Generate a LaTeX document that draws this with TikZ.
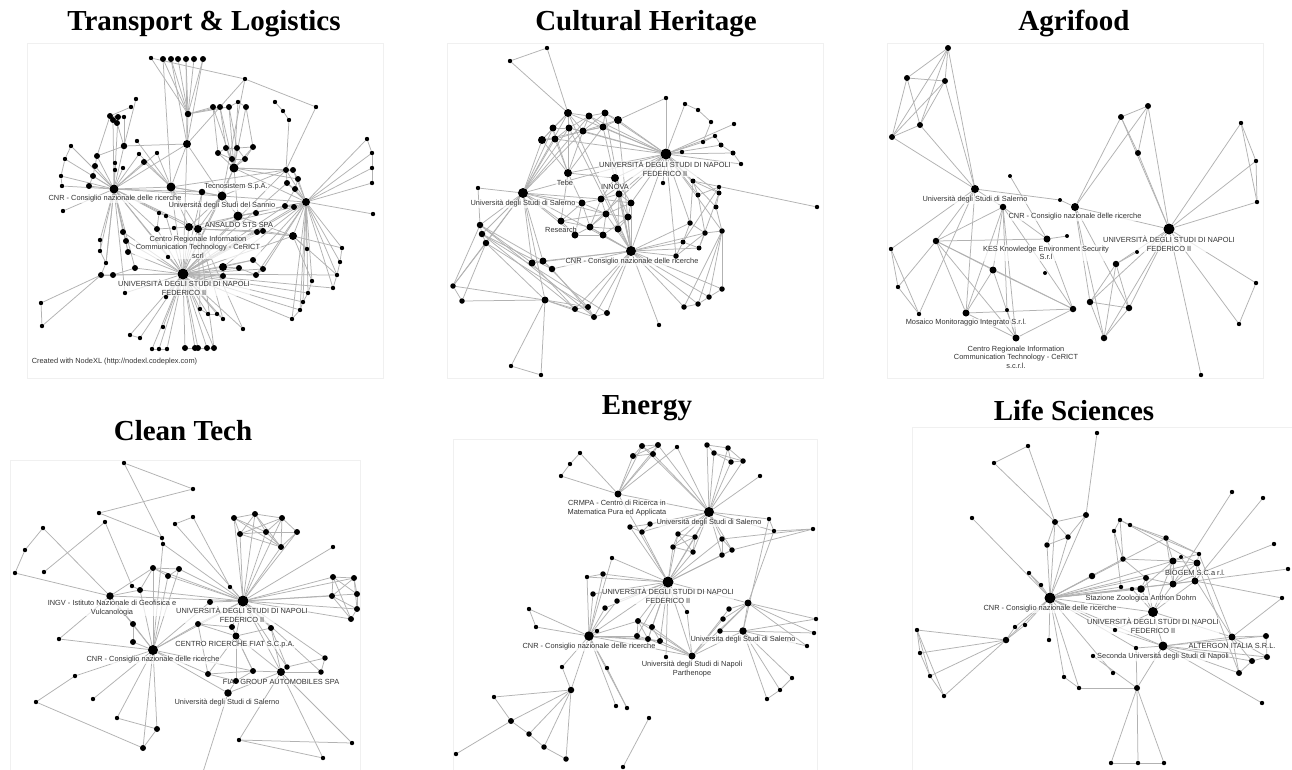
\documentclass[tikz,border=0pt]{standalone}
\usepackage{fontspec}
\setmainfont{Liberation Serif}
\newfontfamily\lblfont{Liberation Sans}
\pgfdeclarelayer{bg}
\pgfdeclarelayer{mid}
\pgfsetlayers{bg,mid,main}
\tikzset{
 dot/.style={circle,fill=black,draw=none,inner sep=0pt,minimum size=#1},
 edge/.style={draw=black!30,line width=0.75pt},
 lbl/.style={font=\lblfont\fontsize{7.4}{8.5}\selectfont,text=black!80,align=center,inner sep=0.6pt,fill=white,fill opacity=0.7,text opacity=1},
 ttl/.style={font=\bfseries\fontsize{29}{32}\selectfont,inner sep=0pt,anchor=base},
 frame/.style={draw=black!6,line width=0.6pt}
}
\begin{document}
\begin{tikzpicture}[x=1pt,y=-1pt]
\useasboundingbox (0,0) rectangle (1292,769);
\begin{pgfonlayer}{bg}
\fill[white] (0,0) rectangle (1292,769);
\draw[frame] (27,43) rectangle (383,378);
\draw[frame] (447,43) rectangle (823,378);
\draw[frame] (887,43) rectangle (1263,378);
\draw[frame] (10,460) rectangle (360,775);
\draw[frame] (453,439) rectangle (817,775);
\draw[frame] (912,427) rectangle (1300,775);
\end{pgfonlayer}

% titles
\node[ttl] (t1) at (204,30) {Transport \& Logistics};
\node[ttl] (t2) at (646,30) {Cultural Heritage};
\node[ttl] (t3) at (1074,30) {Agrifood};
\node[ttl] (t4) at (183,440) {Clean Tech};
\node[ttl] (t5) at (647,414) {Energy};
\node[ttl] (t6) at (1074,420) {Life Sciences};

% ---------------- Panel 1 ----------------
\foreach \n/\x/\y/\s in {1/151/58/4.4pt, 2/163/59/6pt, 3/171/59/6pt, 4/178/59/6pt, 5/186/59/6pt, 6/194/59/6pt, 7/203/59/6pt, 8/245/79/4.4pt, 9/316/107/4.4pt, 10/275/102/4.4pt, 11/283/111/4.4pt, 12/289/120/4.4pt, 13/136/99/4.4pt, 14/131/107/4.4pt, 15/110/116/6pt, 16/113/120/6pt, 17/117/123/6pt, 18/118/117/6pt, 19/124/117/4.4pt, 20/188/114/6.5pt, 21/213/107/6pt, 22/220/107/6pt, 23/229/107/6pt, 24/238/102/4.4pt, 25/246/107/6pt, 26/187/144/8pt, 27/124/146/6.5pt, 28/137/141/4.4pt, 29/71/146/4.4pt, 30/65/159/4.4pt, 31/61/176/4.4pt, 32/62/186/4.4pt, 33/97/156/6pt, 34/95/166/6pt, 35/93/176/6pt, 36/89/186/6pt, 37/115/163/4.4pt, 38/115/170/4.4pt, 39/123/168/4.4pt, 40/139/154/4.4pt, 41/157/153/4.4pt, 42/144/162/6pt, 43/114/189/9pt, 44/171/187/9pt, 45/63/211/4.4pt, 46/218/153/6pt, 47/226/148/6pt, 48/237/148/6pt, 49/253/147/6pt, 50/232/159/6pt, 51/245/159/6pt, 52/234/168/9pt, 53/202/192/6.5pt, 54/222/196/9pt, 55/238/216/9pt, 56/256/213/6pt, 57/286/170/6pt, 58/293/170/6pt, 59/287/183/6pt, 60/298/179/6pt, 61/295/189/6pt, 62/285/206/6pt, 63/294/207/6pt, 64/306/202/8pt, 65/367/139/4.4pt, 66/372/153/4.4pt, 67/372/168/4.4pt, 68/372/183/4.4pt, 69/373/214/4.4pt, 70/157/229/6pt, 71/174/228/4.4pt, 72/189/227/8pt, 73/198/229/8pt, 74/166/216/4.4pt, 75/159/213/4.4pt, 76/257/232/6pt, 77/263/231/6pt, 78/293/236/8pt, 79/123/232/6pt, 80/126/241/6pt, 81/128/252/6pt, 82/100/240/4.4pt, 83/100/251/4.4pt, 84/106/263/4.4pt, 85/101/275/6pt, 86/113/275/6pt, 87/135/268/6pt, 88/168/257/4.4pt, 89/183/274/11pt, 90/223/267/8pt, 91/223/276/6pt, 92/239/268/6pt, 93/256/275/6pt, 94/263/269/6pt, 95/253/260/6pt, 96/307/249/4.4pt, 97/342/248/4.4pt, 98/340/262/4.4pt, 99/337/275/4.4pt, 100/333/288/4.4pt, 101/312/281/4.4pt, 102/308/293/4.4pt, 103/303/302/4.4pt, 104/300/310/4.4pt, 105/292/319/4.4pt, 106/125/293/4.4pt, 107/41/303/4.4pt, 108/42/326/4.4pt, 109/166/297/4.4pt, 110/200/309/4.4pt, 111/208/314/4.4pt, 112/217/314/4.4pt, 113/223/319/4.4pt, 114/163/327/4.4pt, 115/243/329/4.4pt, 116/130/335/4.4pt, 117/140/338/4.4pt, 118/152/349/4.4pt, 119/159/349/4.4pt, 120/167/349/4.4pt, 121/185/348/6pt, 122/195/348/6pt, 123/198/348/6pt, 124/207/348/6pt, 125/214/348/6pt}
  \node[dot=\s] (a\n) at (\x,\y) {};
\begin{pgfonlayer}{bg}
\foreach \u/\v in {1/20,2/20,3/20,4/20,5/20,6/20,7/20,3/26,5/26,7/26,2/44,1/8,8/9,8/26,8/54,
20/26,20/21,20/22,20/23,21/22,22/23,23/24,24/25,
21/52,22/52,23/52,24/52,25/52,21/46,22/47,23/48,25/49,
26/43,26/44,26/54,26/89,
10/11,11/12,12/57,9/57,13/27,
15/16,16/17,17/18,18/15,15/19,14/15,16/43,18/43,17/27,19/27,15/33,
27/43,27/26,28/44,
29/30,30/31,31/32,29/43,30/43,31/43,32/43,
33/34,34/35,35/36,33/43,34/43,35/43,36/43,33/27,
37/43,38/43,39/43,37/38,
40/43,41/43,42/43,40/44,41/44,42/44,
43/45,43/44,43/53,43/54,43/70,43/72,43/73,43/89,43/79,43/80,43/81,43/82,43/83,43/84,43/87,
44/53,44/54,44/72,44/73,44/89,44/57,
46/47,47/48,48/49,46/50,50/51,47/50,48/51,49/51,46/52,47/52,48/52,49/52,50/52,51/52,
52/54,52/55,52/57,52/58,52/60,52/64,52/89,
53/54,53/73,53/89,
54/55,54/64,54/89,54/57,54/72,54/73,
55/56,55/64,55/89,55/78,55/73,
57/58,57/59,58/60,59/61,60/61,61/62,62/63,63/64,57/64,58/64,59/64,60/64,61/64,62/64,
57/89,59/89,62/89,63/89,62/72,63/73,
64/65,64/66,64/67,64/68,64/69,65/66,66/67,67/68,
64/78,64/96,64/97,64/98,64/99,64/100,64/101,64/102,64/103,64/104,64/105,64/89,
97/98,98/99,99/100,101/102,102/103,103/104,104/105,
70/71,71/72,72/73,70/75,74/75,70/89,72/89,73/89,74/89,75/43,
73/76,73/77,76/77,76/78,77/78,78/89,76/89,77/89,
78/96,78/97,78/101,78/99,
79/80,80/81,79/89,80/89,81/89,82/83,83/84,84/85,85/86,86/87,85/89,86/89,87/89,84/43,
88/89,88/43,
90/91,90/92,92/93,93/94,94/95,95/90,90/89,91/89,92/89,93/89,94/89,95/89,
90/64,93/64,94/64,95/64,
89/99,89/100,89/102,89/103,89/104,89/105,
106/43,106/89,107/108,107/85,108/85,
109/89,110/89,111/89,112/89,113/89,114/89,115/89,110/111,111/112,112/113,
116/117,118/119,119/120,116/89,117/89,118/89,119/89,120/89,121/89,122/89,123/89,124/89,125/89,121/122,122/123,123/124,124/125,
115/73,110/73,113/73,125/73}
  \draw[edge] (a\u) -- (a\v);
\end{pgfonlayer}
\begin{pgfonlayer}{mid}
\node[lbl] (aL1) at (115,199) {CNR - Consiglio nazionale delle ricerche};
\node[lbl] (aL2) at (236,187) {Tecnosistem S.p.A.};
\node[lbl] (aL3) at (222,206) {Università degli Studi del Sannio};
\node[lbl] (aL4) at (239,225) {ANSALDO STS SPA};
\node[lbl] (aL5) at (198,247) {Centro Regionale Information\\Communication Technology - CeRICT\\scrl};
\node[lbl] (aL6) at (184,288) {UNIVERSITÀ DEGLI STUDI DI NAPOLI\\FEDERICO II};
\node[lbl,anchor=west,fill=none] (aL7) at (31,362) {Created with NodeXL (http://nodexl.codeplex.com)};
\end{pgfonlayer}

% ---------------- Panel 2 ----------------
\foreach \n/\x/\y/\s in {1/510/61/4.4pt, 2/547/48/4.4pt, 3/666/98/4.4pt, 4/568/113/8pt, 5/589/116/7pt, 6/605/113/7pt, 7/618/120/8pt, 8/553/128/7pt, 9/569/128/7pt, 10/583/131/7pt, 11/603/127/7pt, 12/542/140/8pt, 13/555/139/7pt, 14/666/154/11pt, 15/568/173/8pt, 16/615/178/8pt, 17/523/193/10pt, 18/478/188/4.4pt, 19/685/104/4.4pt, 20/698/110/4.4pt, 21/711/122/4.4pt, 22/734/124/4.4pt, 23/703/142/4.4pt, 24/715/136/4.4pt, 25/721/145/5pt, 26/733/153/5pt, 27/741/164/4.4pt, 28/682/152/4.4pt, 29/663/183/4.4pt, 30/693/181/5pt, 31/698/195/5pt, 32/719/187/4.4pt, 33/719/193/5pt, 34/716/207/5pt, 35/722/231/5.5pt, 36/817/207/4.4pt, 37/619/194/7pt, 38/601/199/7pt, 39/582/203/7pt, 40/631/203/7pt, 41/606/214/7pt, 42/628/217/7pt, 43/561/221/7pt, 44/590/227/7pt, 45/618/229/7pt, 46/575/235/7pt, 47/603/235/7pt, 48/631/251/10pt, 49/690/223/5.5pt, 50/705/233/5.5pt, 51/699/248/5pt, 52/683/242/5pt, 53/676/256/5.5pt, 54/480/225/6.5pt, 55/482/234/6.5pt, 56/486/243/6.5pt, 57/532/263/7pt, 58/543/261/7pt, 59/552/269/6.5pt, 60/453/286/5.5pt, 61/462/301/5.5pt, 62/545/300/7pt, 63/575/309/6pt, 64/588/307/6pt, 65/594/317/6pt, 66/607/313/6pt, 67/659/325/4.4pt, 68/684/307/5.5pt, 69/698/304/5.5pt, 70/709/297/5.5pt, 71/722/289/5.5pt, 72/511/366/4.4pt, 73/541/375/4.4pt}
  \node[dot=\s] (b\n) at (\x,\y) {};
\begin{pgfonlayer}{bg}
\foreach \u/\v in {1/2,1/4,2/4,3/14,3/7,
4/5,5/6,6/7,4/8,4/9,5/9,5/10,6/11,7/11,8/9,9/10,10/11,8/12,9/13,12/13,10/13,4/12,6/10,5/11,8/13,11/12,4/10,7/10,
4/14,5/14,6/14,7/14,9/14,10/14,11/14,13/14,
4/17,8/17,9/17,12/17,13/17,10/17,5/17,
4/15,8/15,10/15,11/15,12/15,13/15,
4/48,7/48,11/48,6/48,9/48,
14/15,14/16,14/17,14/19,14/22,14/23,14/24,14/25,14/26,14/27,14/28,14/48,14/37,14/38,14/40,14/44,14/30,14/31,14/33,14/34,14/35,14/53,14/49,14/29,
19/20,20/21,23/24,24/25,25/26,26/27,21/23,
30/31,30/33,31/32,32/33,33/34,34/35,30/49,31/50,33/51,32/52,30/36,
49/50,50/51,51/52,52/53,49/52,50/53,35/50,35/71,35/70,35/69,35/68,68/69,69/70,70/71,
48/68,48/69,48/70,48/71,48/49,48/50,48/51,48/52,48/53,48/67,
37/38,37/40,38/39,38/41,39/41,40/42,41/42,39/43,43/44,44/45,45/42,43/46,46/47,47/44,41/44,38/44,37/41,40/41,39/44,42/47,46/44,37/45,41/47,43/41,38/40,39/46,37/42,
37/48,40/48,42/48,45/48,47/48,44/48,41/48,
17/39,17/43,17/38,17/41,17/46,
15/39,15/43,15/16,16/37,16/38,16/40,
17/18,17/54,17/55,17/56,17/60,17/62,17/57,17/58,17/48,18/54,
54/57,54/58,55/59,56/62,55/63,56/64,54/65,55/66,54/55,55/56,57/58,58/59,57/63,58/64,59/65,
60/61,60/54,60/62,61/62,60/56,61/56,
62/63,62/64,62/65,62/72,62/73,72/73,
48/57,48/58,48/59,48/63,48/64,48/65,48/66,
63/64,64/65,65/66}
  \draw[edge] (b\u) -- (b\v);
\end{pgfonlayer}
\begin{pgfonlayer}{mid}
\node[lbl] (bL1) at (665,169) {UNIVERSITÀ DEGLI STUDI DI NAPOLI\\FEDERICO II};
\node[lbl] (bL2) at (565,183) {Tebe};
\node[lbl] (bL3) at (615,187) {INNOVA};
\node[lbl] (bL4) at (523,204) {Università degli Studi di Salerno};
\node[lbl] (bL5) at (561,230) {Research};
\node[lbl] (bL6) at (632,262) {CNR - Consiglio nazionale delle ricerche};
\end{pgfonlayer}

% ---------------- Panel 3 ----------------
\foreach \n/\x/\y/\s in {1/948/48/6pt, 2/907/78/6pt, 3/945/81/6pt, 4/920/125/6pt, 5/892/137/6pt, 6/975/189/8pt, 7/1010/176/4pt, 8/1060/200/4pt, 9/1003/207/6.5pt, 10/1075/207/8pt, 11/1169/229/11pt, 12/1121/117/6pt, 13/1148/106/6pt, 14/1138/153/6pt, 15/1241/123/4.4pt, 16/1256/161/4.4pt, 17/1257/202/4.4pt, 18/936/241/6.5pt, 19/1047/239/7pt, 20/1067/236/4pt, 21/891/249/4.4pt, 22/898/287/4.4pt, 23/919/314/4.4pt, 24/993/270/7pt, 25/1045/273/4pt, 26/966/313/7pt, 27/1007/310/4pt, 28/1073/309/6.5pt, 29/1016/338/7pt, 30/1137/252/4pt, 31/1116/264/6.5pt, 32/1090/302/6.5pt, 33/1129/308/6.5pt, 34/1104/338/6.5pt, 35/1256/283/4.4pt, 36/1239/324/4.4pt, 37/1201/375/4.4pt}
  \node[dot=\s] (c\n) at (\x,\y) {};
\begin{pgfonlayer}{bg}
\foreach \u/\v in {1/2,1/3,1/4,1/5,1/6,2/3,2/4,2/5,3/4,3/5,4/5,5/6,4/6,3/6,
6/8,8/10,6/21,6/23,6/18,6/26,6/9,
7/19,20/19,
9/18,9/24,9/26,9/19,9/29,9/27,9/28,
18/19,18/26,18/28,18/29,18/24,18/22,
21/22,22/23,21/23,
24/26,24/28,24/29,26/28,26/29,28/29,19/28,27/29,
10/12,10/13,12/13,12/14,13/14,12/11,13/11,14/11,10/11,
10/32,10/34,10/33,
11/15,11/16,11/17,15/16,16/17,15/17,
11/35,11/36,35/36,11/37,
30/31,11/31,11/32,11/33,11/34,31/32,31/33,31/34,32/33,32/34,33/34}
  \draw[edge] (c\u) -- (c\v);
\end{pgfonlayer}
\begin{pgfonlayer}{mid}
\node[lbl] (cL1) at (975,200) {Università degli Studi di Salerno};
\node[lbl] (cL2) at (1075,217) {CNR - Consiglio nazionale delle ricerche};
\node[lbl] (cL3) at (1169,244) {UNIVERSITÀ DEGLI STUDI DI NAPOLI\\FEDERICO II};
\node[lbl] (cL4) at (1046,253) {KES Knowledge Environment Security\\S.r.l};
\node[lbl] (cL5) at (966,323) {Mosaico Monitoraggio Integrato S.r.l.};
\node[lbl] (cL6) at (1016,357) {Centro Regionale Information\\Communication Technology - CeRICT\\s.c.r.l.};
\end{pgfonlayer}

% ---------------- Panel 4 ----------------
\foreach \n/\x/\y/\s in {1/124/463/4.4pt, 2/193/489/4.4pt, 3/99/513/4.4pt, 4/162/538/4.4pt, 5/163/544/4.4pt, 6/105/522/4.4pt, 7/193/517/4.4pt, 8/175/524/4.4pt, 9/43/528/4.4pt, 10/25/550/4.4pt, 11/15/573/4.4pt, 12/44/572/4.4pt, 13/234/518/6pt, 14/255/514/6pt, 15/282/518/6pt, 16/240/534/6pt, 17/266/532/6pt, 18/297/532/6pt, 19/281/547/6pt, 20/333/547/4.4pt, 21/153/568/6pt, 22/179/569/6pt, 23/168/576/6pt, 24/140/590/6pt, 25/132/586/4.4pt, 26/110/596/7.5pt, 27/230/587/4.4pt, 28/210/602/6pt, 29/243/601/11pt, 30/333/577/6pt, 31/354/578/6pt, 32/357/594/6pt, 33/332/596/6pt, 34/357/609/6pt, 35/351/619/6pt, 36/133/624/6pt, 37/133/642/6pt, 38/59/639/4.4pt, 39/198/624/6pt, 40/232/627/6pt, 41/236/636/7pt, 42/271/628/6pt, 43/153/650/10pt, 44/325/658/5.5pt, 45/287/667/5.5pt, 46/208/674/6pt, 47/253/671/6pt, 48/281/672/8pt, 49/321/672/5.5pt, 50/236/681/6pt, 51/228/693/7.5pt, 52/75/676/4.4pt, 53/36/702/4.4pt, 54/93/699/4.4pt, 55/117/718/4.4pt, 56/157/729/6pt, 57/143/748/6pt, 58/239/740/4.4pt, 59/352/743/4.4pt, 60/323/758/4.4pt}
  \node[dot=\s] (d\n) at (\x,\y) {};
\coordinate (d61) at (203,772);
\begin{pgfonlayer}{bg}
\foreach \u/\v in {1/2,1/4,2/3,3/4,4/5,6/12,6/25,7/8,7/27,8/29,5/29,5/43,
9/10,10/11,9/26,11/26,
13/14,14/15,13/16,16/17,17/18,15/18,18/19,17/19,14/17,13/17,15/16,14/19,16/19,15/19,13/19,14/16,15/17,
13/29,14/29,15/29,16/29,17/29,19/29,18/29,
20/29,30/29,31/29,32/29,33/29,34/29,35/29,30/31,31/32,32/34,34/35,33/35,30/33,30/32,31/33,33/34,31/34,30/35,
21/22,21/23,22/23,21/24,24/25,21/29,22/29,23/29,24/29,21/43,22/43,23/43,24/43,21/26,24/26,
26/29,26/43,26/36,38/26,38/43,
27/29,28/29,28/43,
29/39,29/40,29/41,29/42,29/44,29/45,29/48,29/49,29/43,
36/37,36/43,37/43,
39/41,39/40,40/41,41/42,39/46,40/47,41/46,41/47,41/48,41/50,42/48,42/45,39/43,
43/46,43/51,43/52,43/54,43/55,43/56,43/57,43/47,
44/45,44/49,45/48,46/47,47/48,48/49,46/50,47/50,50/51,48/51,
48/58,48/60,48/59,58/59,58/60,
52/53,53/57,55/56,56/57,51/61}
  \draw[edge] (d\u) -- (d\v);
\end{pgfonlayer}
\begin{pgfonlayer}{mid}
\node[lbl] (dL1) at (112,608) {INGV - Istituto Nazionale di Geofisica e\\Vulcanologia};
\node[lbl] (dL2) at (242,615) {UNIVERSITÀ DEGLI STUDI DI NAPOLI\\FEDERICO II};
\node[lbl] (dL3) at (235,645) {CENTRO RICERCHE FIAT S.C.p.A.};
\node[lbl] (dL4) at (153,660) {CNR - Consiglio nazionale delle ricerche};
\node[lbl] (dL5) at (281,682) {FIAT GROUP AUTOMOBILES SPA};
\node[lbl] (dL6) at (227,703) {Università degli Studi di Salerno};
\end{pgfonlayer}

% ---------------- Panel 5 ----------------
\foreach \n/\x/\y/\s in {1/642/446/6pt, 2/658/445/6pt, 3/633/456/6pt, 4/653/454/6pt, 5/677/447/4.4pt, 6/580/453/4.4pt, 7/570/464/4.4pt, 8/561/476/4.4pt, 9/618/494/7pt, 10/707/445/5.5pt, 11/728/448/5.5pt, 12/714/453/5.5pt, 13/731/462/5.5pt, 14/743/461/5.5pt, 15/760/476/4.4pt, 16/709/512/10pt, 17/630/527/5.5pt, 18/642/532/5.5pt, 19/650/524/5.5pt, 20/769/519/4.4pt, 21/774/531/4.4pt, 22/813/529/4.4pt, 23/678/534/5.5pt, 24/695/537/5.5pt, 25/673/547/5.5pt, 26/693/552/5.5pt, 27/722/539/5.5pt, 28/732/550/5.5pt, 29/722/555/5.5pt, 30/612/558/4.4pt, 31/587/577/4.4pt, 32/603/574/5.5pt, 33/668/582/11pt, 34/593/594/5.5pt, 35/617/601/5.5pt, 36/605/608/5.5pt, 37/687/612/4.4pt, 38/748/603/7pt, 39/729/609/5.5pt, 40/723/619/5.5pt, 41/720/631/5.5pt, 42/743/631/7.5pt, 43/816/619/4.4pt, 44/814/633/4.4pt, 45/807/646/4.4pt, 46/529/609/4.4pt, 47/536/627/4.4pt, 48/597/631/4.4pt, 49/638/621/6pt, 50/652/627/6pt, 51/637/636/6pt, 52/648/639/6pt, 53/660/641/6pt, 54/589/636/9.5pt, 55/666/657/4.4pt, 56/692/656/7pt, 57/562/667/4.4pt, 58/607/668/4.4pt, 59/571/690/6.5pt, 60/494/697/4.4pt, 61/511/721/6pt, 62/529/734/5.5pt, 63/544/747/5.5pt, 64/566/759/5.5pt, 65/456/754/4.4pt, 66/616/706/4.4pt, 67/627/708/4.4pt, 68/649/718/4.4pt, 69/623/767/4.4pt, 70/792/678/4.4pt, 71/780/690/4.4pt, 72/767/699/4.4pt}
  \node[dot=\s] (e\n) at (\x,\y) {};
\begin{pgfonlayer}{bg}
\foreach \u/\v in {1/2,1/3,2/4,3/4,1/4,2/3,3/9,1/9,4/9,2/9,5/9,6/7,7/8,6/9,8/9,
1/16,2/16,4/16,5/16,
10/11,10/12,11/13,12/13,12/14,13/14,11/14,10/16,11/16,12/16,13/16,14/16,15/16,9/16,9/33,
16/18,16/19,17/18,18/19,17/19,16/20,16/21,20/21,21/22,22/27,22/28,
16/23,16/24,16/25,16/26,23/24,23/25,24/25,24/26,25/26,23/26,
16/27,16/28,16/29,27/28,28/29,27/29,16/33,
33/17,33/18,33/23,33/24,33/25,33/26,33/27,33/28,33/29,33/30,33/31,33/32,33/34,33/35,33/36,33/37,33/38,33/49,33/50,33/51,33/52,33/53,33/54,33/56,33/55,
21/38,20/42,
38/39,38/40,38/41,38/42,38/43,38/44,38/45,42/43,42/44,42/45,38/56,39/56,42/56,40/56,41/42,
42/70,42/71,42/72,70/71,71/72,
31/32,31/54,32/54,30/54,34/54,35/54,36/54,46/47,46/54,47/54,48/54,
49/50,50/53,51/52,52/53,49/51,49/52,50/52,49/54,51/54,52/54,53/54,49/56,50/56,53/56,52/56,
54/56,54/57,54/58,54/59,57/59,58/67,54/66,54/67,
59/60,59/61,59/62,59/63,59/64,60/61,61/62,62/63,63/64,61/65,
68/69,37/56}
  \draw[edge] (e\u) -- (e\v);
\end{pgfonlayer}
\begin{pgfonlayer}{mid}
\node[lbl] (eL1) at (617,508) {CRMPA - Centro di Ricerca in\\Matematica Pura ed Applicata};
\node[lbl] (eL2) at (709,523) {Università degli Studi di Salerno};
\node[lbl] (eL3) at (668,596) {UNIVERSITÀ DEGLI STUDI DI NAPOLI\\FEDERICO II};
\node[lbl] (eL4) at (589,647) {CNR - Consiglio nazionale delle ricerche};
\node[lbl] (eL5) at (743,640) {Universita degli Studi di Salerno};
\node[lbl] (eL6) at (692,669) {Università degli Studi di Napoli\\Parthenope};
\end{pgfonlayer}

% ---------------- Panel 6 ----------------
\foreach \n/\x/\y/\s in {1/1097/433/4.4pt, 2/1028/446/4.4pt, 3/994/463/4.4pt, 4/972/518/4.4pt, 5/1055/522/6pt, 6/1086/515/6pt, 7/1068/537/5.5pt, 8/1047/545/5.5pt, 9/1232/492/4.4pt, 10/1263/498/4.4pt, 11/1120/520/4.4pt, 12/1130/525/4.4pt, 13/1114/531/4.4pt, 14/1166/538/5.5pt, 15/1181/557/4pt, 16/1199/554/4.4pt, 17/1274/544/4.4pt, 18/1288/569/4.4pt, 19/1282/598/4.4pt, 20/1123/559/5.5pt, 21/1029/573/4.4pt, 22/1041/585/4.4pt, 23/1092/576/6.5pt, 24/1173/561/7pt, 25/1197/563/7pt, 26/1146/578/6pt, 27/1173/584/7pt, 28/1195/581/7pt, 29/1121/587/4.4pt, 30/1132/589/4.4pt, 31/1141/589/7.5pt, 32/1050/598/11pt, 33/1153/612/10pt, 34/1015/627/4.4pt, 35/1025/625/4.4pt, 36/1006/640/6.5pt, 37/917/630/4.4pt, 38/920/653/4.4pt, 39/930/676/4.4pt, 40/944/696/4.4pt, 41/1049/640/4.4pt, 42/1115/630/4.4pt, 43/1136/648/4.4pt, 44/1163/646/9pt, 45/1232/637/7pt, 46/1266/636/6pt, 47/1267/657/6pt, 48/1252/661/6pt, 49/1239/673/6pt, 50/1093/656/4.4pt, 51/1064/677/4.4pt, 52/1079/688/4.4pt, 53/1113/673/4.4pt, 54/1137/688/6pt, 55/1262/703/4.4pt, 56/1111/763/4.4pt, 57/1138/763/4.4pt, 58/1164/763/4.4pt}
  \node[dot=\s] (f\n) at (\x,\y) {};
\begin{pgfonlayer}{bg}
\foreach \u/\v in {1/6,2/3,2/5,3/5,5/6,5/7,6/7,5/8,7/8,5/32,8/32,6/32,7/32,4/32,
9/27,10/28,11/12,11/13,12/14,11/20,13/20,11/25,13/29,12/16,
14/24,14/16,14/32,14/27,16/25,16/24,15/24,
17/27,18/28,19/28,19/45,
20/32,20/24,20/26,
21/22,21/32,22/32,23/32,24/32,25/32,26/32,27/32,28/32,29/32,30/32,31/32,33/32,
24/25,24/27,25/28,27/28,26/31,24/31,25/27,26/27,
31/33,24/33,27/33,28/33,26/33,30/33,
33/44,33/45,33/42,
32/34,32/35,32/36,32/41,32/42,32/43,32/51,32/52,32/53,32/44,
34/36,35/36,36/37,36/38,36/39,36/40,37/38,38/39,39/40,37/40,37/39,
44/45,44/46,44/47,44/48,44/49,45/46,45/47,45/48,46/47,47/48,48/49,45/49,44/43,44/42,44/55,
44/54,43/54,50/54,
51/52,52/54,
54/56,54/57,54/58,56/57,57/58,
45/16,45/15,49/25}
  \draw[edge] (f\u) -- (f\v);
\end{pgfonlayer}
\begin{pgfonlayer}{mid}
\node[lbl] (fL1) at (1195,573) {BIOGEM S.C.a r.l.};
\node[lbl] (fL2) at (1141,599) {Stazione Zoologica Anthon Dohrn};
\node[lbl] (fL3) at (1050,609) {CNR - Consiglio nazionale delle ricerche};
\node[lbl] (fL4) at (1153,626) {UNIVERSITÀ DEGLI STUDI DI NAPOLI\\FEDERICO II};
\node[lbl] (fL5) at (1232,646) {ALTERGON ITALIA S.R.L.};
\node[lbl] (fL6) at (1163,657) {Seconda Università degli Studi di Napoli};
\end{pgfonlayer}
\end{tikzpicture}
\end{document}
